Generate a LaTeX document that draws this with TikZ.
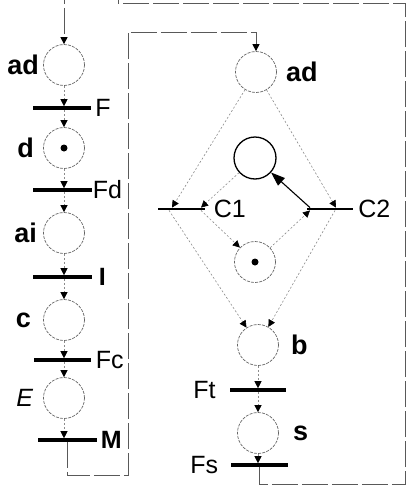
\documentclass[tikz,border=0pt]{standalone}
\usepackage{fontspec}
\setmainfont{Liberation Sans}
\usetikzlibrary{arrows.meta}
\begin{document}
\begin{tikzpicture}[x=1pt,y=-1pt,
  place/.style={circle,draw=black!60,line width=0.7pt,dash pattern=on 3pt off 1.2pt,minimum size=41pt,inner sep=0pt},
  mainplace/.style={circle,draw=black,line width=1.3pt,minimum size=42pt,inner sep=0pt},
  tbar/.style={rectangle,fill=black,minimum height=3.2pt,inner sep=0pt},
  tok/.style={circle,fill=black,minimum size=7pt,inner sep=0pt},
  plab/.style={font=\fontsize{27}{30}\selectfont\bfseries,inner sep=0pt},
  tlab/.style={font=\fontsize{25}{28}\selectfont,inner sep=0pt},
  pnarc/.style={draw=black!45,line width=0.6pt,dash pattern=on 2pt off 2pt,-{Triangle[length=7pt,width=7pt,color=black]}},
  solidarc/.style={draw=black,line width=1.1pt,-{Triangle[length=14pt,width=10pt]}},
  frameline/.style={draw=black!65,line width=0.8pt,dash pattern=on 26pt off 4pt,-{Triangle[length=7pt,width=7pt,color=black]}},
]
\useasboundingbox (0,0) rectangle (412,490);
\clip (0,0) rectangle (412,490);
\fill[white] (0,0) rectangle (412,490);

% left column
\node[place] (pad) at (64,65) {};
\node[tbar,minimum width=58pt] (tF) at (62,108) {};
\node[place] (pd) at (64,148) {};
\node[tok] (kd) at (pd) {};
\node[tbar,minimum width=59pt] (tFd) at (62,190) {};
\node[place] (pai) at (64,233) {};
\node[tbar,minimum width=59pt] (tI) at (62,277) {};
\node[place] (pc) at (64,320) {};
\node[tbar,minimum width=57pt] (tFc) at (62,360) {};
\node[place] (pE) at (64,398) {};
\node[tbar,minimum width=59pt] (tM) at (67,440) {};

% right part
\node[place] (pad2) at (256,72) {};
\node[mainplace] (pmid) at (255,158) {};
\node[tbar,minimum width=47pt,minimum height=2.4pt] (tC1) at (181,209) {};
\node[tbar,minimum width=46pt,minimum height=2.4pt] (tC2) at (330,209) {};
\node[place] (ptok) at (255,262) {};
\node[tok] (kt) at (ptok) {};
\node[place] (pb) at (258,345) {};
\node[tbar,minimum width=56pt] (tFt) at (258,390) {};
\node[place] (ps) at (258,433) {};
\node[tbar,minimum width=57pt] (tFs) at (259,465) {};

% labels
\node[plab,anchor=east] (lad) at ([xshift=-4pt]pad.west) {ad};
\node[plab,anchor=east] (ld) at ([xshift=-9pt]pd.west) {d};
\node[plab,anchor=east] (lai) at ([xshift=-6pt]pai.west) {ai};
\node[plab,anchor=east] (lc) at ([xshift=-12pt]pc.west) {c};
\node[tlab,anchor=east] (lE) at ([xshift=-10pt]pE.west) {\itshape E};
\node[tlab,anchor=west] (lF) at ([xshift=4pt]tF.east) {F};
\node[tlab,anchor=west] (lFd) at ([xshift=1pt]tFd.east) {Fd};
\node[tlab,anchor=west] (lI) at ([xshift=7pt]tI.east) {\bfseries I};
\node[tlab,anchor=west] (lFc) at ([xshift=5pt]tFc.east) {Fc};
\node[tlab,anchor=west] (lM) at ([xshift=4pt]tM.east) {\bfseries M};
\node[plab,anchor=west] (lad2) at ([xshift=9pt]pad2.east) {ad};
\node[tlab,anchor=west] (lC1) at ([xshift=9pt]tC1.east) {C1};
\node[tlab,anchor=west] (lC2) at ([xshift=5pt]tC2.east) {C2};
\node[plab,anchor=west] (lb) at ([xshift=12pt]pb.east) {b};
\node[plab,anchor=west] (ls) at ([xshift=14pt]ps.east) {s};
\node[tlab,anchor=east] (lFt) at ([xshift=-14pt]tFt.west) {Ft};
\node[tlab,anchor=east] (lFs) at ([xshift=-12pt]tFs.west) {Fs};

% left column arcs
\draw[pnarc] (pad) -- (pad |- tF.north);
\draw[pnarc] (pd |- tF.south) -- (pd);
\draw[pnarc] (pd) -- (pd |- tFd.north);
\draw[pnarc] (pai |- tFd.south) -- (pai);
\draw[pnarc] (pai) -- (pai |- tI.north);
\draw[pnarc] (pc |- tI.south) -- (pc);
\draw[pnarc] (pc) -- (pc |- tFc.north);
\draw[pnarc] (pE |- tFc.south) -- (pE);
\draw[pnarc] (pE) -- (pE |- tM.north);

% right arcs
\draw[pnarc] (pad2) -- ([xshift=-9pt]tC1.north);
\draw[pnarc] (pmid) -- ([xshift=20pt]tC1.north);
\draw[pnarc] ([xshift=20pt]tC1.south) -- (ptok);
\draw[pnarc] ([xshift=-12pt]tC1.south) -- (pb);
\draw[pnarc] (pad2) -- ([xshift=6pt]tC2.north);
\draw[pnarc] (ptok) -- ([xshift=-20pt]tC2.south);
\draw[pnarc] ([xshift=5pt]tC2.south) -- (pb);
\draw[solidarc] ([xshift=-20pt]tC2.north) -- (pmid);
\draw[pnarc] (pb) -- (pb |- tFt.north);
\draw[pnarc] (pb |- tFt.south) -- (ps);
\draw[pnarc] (ps) -- (ps |- tFs.north);

% loop from M to right ad
\coordinate (m1) at (67,475);
\coordinate (m2) at (128,475);
\coordinate (m3) at (128,32);
\coordinate (m4) at (256,32);
\draw[frameline] (tM) -- (m1) -- (m2) -- (m3) -- (m4) -- (pad2);

% loop from Fs to left ad
\coordinate (o1) at (259,484);
\coordinate (o2) at (405,484);
\coordinate (o3) at (405,3);
\coordinate (o4) at (118,3);
\coordinate (o5) at (118,-12);
\coordinate (o6) at (64,-12);
\draw[frameline] (tFs) -- (o1) -- (o2) -- (o3) -- (o4) -- (o5) -- (o6) -- (pad);
\end{tikzpicture}
\end{document}
